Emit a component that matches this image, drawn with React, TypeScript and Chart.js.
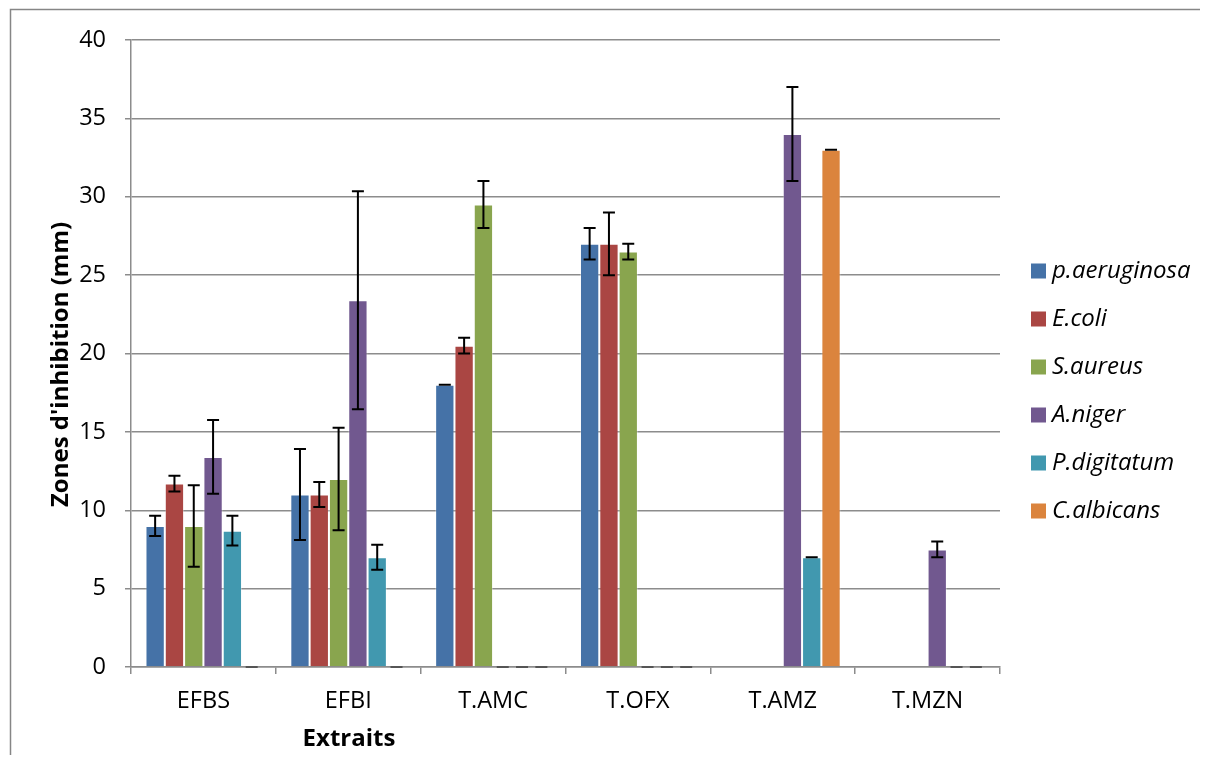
import React, { useEffect, useRef } from "react";
import { Chart, registerables } from "chart.js";

Chart.register(...registerables);

const categories = ["EFBS", "EFBI", "T.AMC", "T.OFX", "T.AMZ", "T.MZN"];
const seriesNames = ["p.aeruginosa", "E.coli", "S.aureus", "A.niger", "P.digitatum", "C.albicans"];
const seriesColors = ["#4572A7", "#AA4643", "#89A54E", "#71588F", "#4198AF", "#DB843D"];

const pAeruginosa = [9, 11, 18, 27, null, null];
const pAeruginosaErr = [0.65, 2.9, 0, 1, null, null];
const eColi = [11.7, 11, 20.5, 27, null, null];
const eColiErr = [0.5, 0.8, 0.5, 2, null, null];
const sAureus = [9, 12, 29.5, 26.5, null, null];
const sAureusErr = [2.6, 3.27, 1.5, 0.5, null, null];
const aNiger = [13.4, 23.4, 0, 0, 34, 7.5];
const aNigerErr = [2.35, 6.95, 0, 0, 3, 0.5];
const pDigitatum = [8.7, 7, 0, 0, 7, 0];
const pDigitatumErr = [0.95, 0.8, 0, 0, 0, 0];
const cAlbicans = [0, 0, 0, 0, 33, 0];
const cAlbicansErr = [0, 0, 0, 0, 0, 0];

const yMin = 0;
const yMax = 40;
const yStep = 5;

const yTitle = "Zones d'inhibition (mm)";
const xTitle = "Extraits";

const FONT = "'Open Sans', sans-serif";
const GRID = "#8c8c8c";

const seriesValues = [pAeruginosa, eColi, sAureus, aNiger, pDigitatum, cAlbicans];
const seriesErrors = [pAeruginosaErr, eColiErr, sAureusErr, aNigerErr, pDigitatumErr, cAlbicansErr];

const frameBorderPlugin = {
  id: "frameBorder",
  beforeDraw(chart: any) {
    const ctx = chart.ctx;
    ctx.save();
    ctx.fillStyle = "#ffffff";
    ctx.fillRect(0, 0, chart.width, chart.height);
    ctx.strokeStyle = "#868686";
    ctx.lineWidth = 1.5;
    ctx.beginPath();
    ctx.moveTo(10.5, chart.height);
    ctx.lineTo(10.5, 9.5);
    ctx.lineTo(chart.width, 9.5);
    ctx.stroke();
    ctx.restore();
  },
};

const errorBarPlugin = {
  id: "errorBars",
  afterDatasetsDraw(chart: any) {
    const ctx = chart.ctx;
    const yScale = chart.scales.y;
    chart.data.datasets.forEach((ds: any, di: number) => {
      const meta = chart.getDatasetMeta(di);
      meta.data.forEach((bar: any, i: number) => {
        const v = ds.data[i];
        const e = ds.errors[i];
        if (v == null || e == null) return;
        const x = bar.x;
        const top = yScale.getPixelForValue(v + e);
        const bot = yScale.getPixelForValue(v - e);
        ctx.save();
        ctx.strokeStyle = v === 0 ? "#555555" : "#000000";
        ctx.lineWidth = 2;
        ctx.beginPath();
        ctx.moveTo(x, top);
        ctx.lineTo(x, bot);
        ctx.moveTo(x - 6, top);
        ctx.lineTo(x + 6, top);
        ctx.moveTo(x - 6, bot);
        ctx.lineTo(x + 6, bot);
        ctx.stroke();
        ctx.restore();
      });
    });
  },
};

const titlesAndLegendPlugin = {
  id: "titlesAndLegend",
  afterDraw(chart: any) {
    const ctx = chart.ctx;
    const area = chart.chartArea;
    ctx.save();
    ctx.fillStyle = "#000000";
    ctx.textAlign = "center";
    ctx.textBaseline = "middle";
    ctx.font = `bold 24px ${FONT}`;
    ctx.save();
    ctx.translate(area.left - 70, (area.top + area.bottom) / 2 + 11);
    ctx.rotate(-Math.PI / 2);
    ctx.fillText(yTitle, 0, 0);
    ctx.restore();
    ctx.fillText(xTitle, area.left + 218, area.bottom + 72);
    ctx.font = `italic 24px ${FONT}`;
    ctx.textAlign = "left";
    chart.data.datasets.forEach((ds: any, i: number) => {
      const cy = area.top + 231 + i * 48;
      const bx = area.right + 31;
      ctx.fillStyle = ds.backgroundColor;
      ctx.fillRect(bx, cy - 7.5, 15, 15);
      ctx.fillStyle = "#000000";
      ctx.fillText(ds.label, bx + 21, cy);
    });
    ctx.restore();
  },
};

export default function App() {
  const canvasRef = useRef<HTMLCanvasElement | null>(null);

  useEffect(() => {
    if (!canvasRef.current) return;
    const datasets = seriesNames.map((name, i) => ({
      label: name,
      data: seriesValues[i],
      errors: seriesErrors[i],
      backgroundColor: seriesColors[i],
      borderColor: "rgba(255,255,255,0.35)",
      borderWidth: 1,
      categoryPercentage: 0.8,
      barPercentage: 1.0,
    }));

    const chart = new Chart(canvasRef.current, {
      type: "bar",
      data: { labels: categories, datasets: datasets as any },
      options: {
        animation: false,
        responsive: true,
        maintainAspectRatio: false,
        devicePixelRatio: 1,
        layout: { padding: { top: 40, left: 0, right: 208, bottom: 0 } },
        plugins: {
          legend: { display: false },
          tooltip: { enabled: false },
        },
        scales: {
          x: {
            offset: true,
            grid: {
              offset: true,
              drawOnChartArea: false,
              drawTicks: true,
              tickLength: 7,
              color: GRID,
              lineWidth: 1.5,
            },
            border: { display: true, color: GRID, width: 1.5 },
            ticks: {
              color: "#000000",
              font: { family: FONT, size: 23.5 },
              padding: 13,
              maxRotation: 0,
            },
            afterFit(scale: any) {
              scale.height = 96;
            },
          },
          y: {
            min: yMin,
            max: yMax,
            ticks: {
              stepSize: yStep,
              color: "#000000",
              font: { family: FONT, size: 23.5 },
              padding: 19,
            },
            grid: {
              color: GRID,
              lineWidth: 1.5,
              drawTicks: true,
              tickLength: 6,
            },
            border: { display: true, color: GRID, width: 1.5 },
            afterFit(scale: any) {
              scale.width = 131;
            },
          },
        },
      },
      plugins: [frameBorderPlugin, errorBarPlugin, titlesAndLegendPlugin],
    });
    return () => chart.destroy();
  }, []);

  return (
    <div style={{ width: "1208px", height: "763px", margin: "-8px", position: "relative" }}>
      <canvas ref={canvasRef} />
    </div>
  );
}
